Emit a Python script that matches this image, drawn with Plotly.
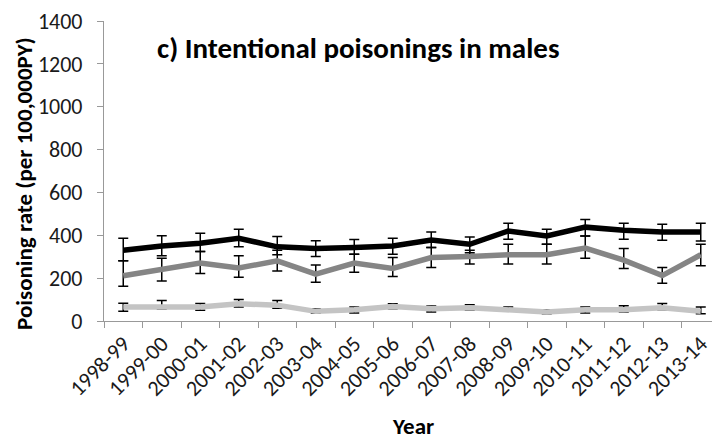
import plotly.graph_objects as go

years = ["1998-99", "1999-00", "2000-01", "2001-02", "2002-03", "2003-04", "2004-05", "2005-06",
         "2006-07", "2007-08", "2008-09", "2009-10", "2010-11", "2011-12", "2012-13", "2013-14"]

# series 1 (black)
s1 = [330, 350, 363, 386, 346, 338, 343, 350, 378, 358, 420, 397, 438, 423, 415, 415]
s1_hi = [386, 398, 409, 428, 394, 374, 380, 386, 415, 392, 456, 428, 474, 456, 451, 456]
s1_lo = [281, 304, 324, 347, 309, 301, 312, 312, 343, 319, 381, 358, 397, 381, 377, 373]

# series 2 (dark grey)
s2 = [211, 239, 270, 247, 281, 219, 270, 245, 296, 301, 309, 309, 340, 284, 212, 309]
s2_hi = [281, 293, 324, 304, 330, 261, 312, 296, 343, 330, 358, 358, 397, 338, 250, 358]
s2_lo = [162, 187, 222, 204, 233, 181, 227, 208, 250, 266, 266, 266, 293, 245, 176, 258]

# series 3 (light grey)
s3 = [65, 68, 65, 80, 74, 45, 53, 68, 57, 62, 54, 42, 53, 53, 62, 45]
s3_hi = [83, 96, 82, 100, 96, 57, 65, 80, 70, 76, 65, 53, 65, 71, 82, 65]
s3_lo = [45, 56, 50, 65, 60, 37, 37, 57, 42, 50, 45, 34, 37, 42, 53, 34]

y_ticks = [0, 200, 400, 600, 800, 1000, 1200, 1400]

FONT = "Carlito, Lato, Open Sans, sans-serif"

fig = go.Figure()
for vals, hi, lo, col in [(s3, s3_hi, s3_lo, "#c4c4c4"),
                           (s2, s2_hi, s2_lo, "#858585"),
                           (s1, s1_hi, s1_lo, "#000000")]:
    fig.add_trace(go.Scatter(
        x=years, y=vals, mode="lines",
        line=dict(color=col, width=5.5),
        error_y=dict(type="data", symmetric=False,
                     array=[h - v for h, v in zip(hi, vals)],
                     arrayminus=[v - l for v, l in zip(vals, lo)],
                     color="#000000", thickness=1.5, width=5),
        showlegend=False,
    ))

fig.add_annotation(text="<b>c) Intentional poisonings in males</b>",
                   xref="paper", yref="paper", x=0.083, y=0.911,
                   xanchor="left", yanchor="middle", showarrow=False,
                   font=dict(family=FONT, size=29, color="#000000"))
fig.add_annotation(text="<b>Poisoning rate (per 100,000PY)</b>",
                   xref="paper", yref="paper", x=-0.131, y=0.458, textangle=-90,
                   xanchor="center", yanchor="middle", showarrow=False,
                   font=dict(family=FONT, size=23, color="#000000"))
fig.add_annotation(text="<b>Year</b>",
                   xref="paper", yref="paper", x=0.502, y=-0.351,
                   xanchor="center", yanchor="middle", showarrow=False,
                   font=dict(family=FONT, size=23, color="#000000"))

fig.update_layout(
    width=712, height=431,
    margin=dict(l=95.5, r=0, t=10, b=118.3),
    plot_bgcolor="white", paper_bgcolor="white",
    font=dict(family=FONT, color="#222"),
)
fig.update_xaxes(
    type="category", range=[-0.5, 15.5],
    tickson="boundaries", ticks="outside", ticklen=6, tickcolor="#999999",
    showline=True, linecolor="#999999", linewidth=1.2,
    showgrid=False, tickangle=-45, tickfont=dict(size=22, color="#1a1a1a"),
)
fig.update_yaxes(
    range=[0, 1400], tickvals=y_ticks, ticks="outside", ticklen=6, tickcolor="#999999",
    showline=True, linecolor="#999999", linewidth=1.2, ticklabelstandoff=10,
    ticklabeloverflow="allow",
    showgrid=False, zeroline=False, tickfont=dict(size=22, color="#1a1a1a"),
)

fig.write_html("out.html")
